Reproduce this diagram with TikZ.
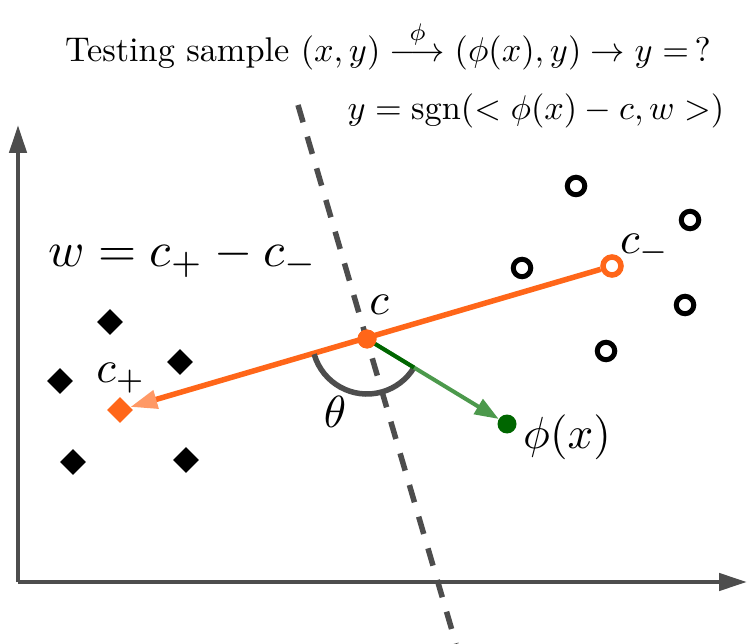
\documentclass[tikz,border=0pt]{standalone}
\usepackage{amsmath}
\usetikzlibrary{arrows.meta,shapes.geometric,calc}
\definecolor{axisgray}{HTML}{4D4D4D}
\definecolor{myorange}{HTML}{FF6619}
\definecolor{orlight}{HTML}{FF9966}
\definecolor{dkgreen}{HTML}{006600}
\definecolor{ltgreen}{HTML}{4C994C}
\tikzset{
  axisline/.style={line width=4.5pt, draw=axisgray, line cap=butt, -{Triangle[length=28pt,width=17pt]}},
  negpt/.style={circle, draw=black, line width=5pt, minimum size=17.5pt, inner sep=0pt, fill=white},
  pospt/.style={diamond, fill=black, minimum size=26pt, inner sep=0pt},
  lbl/.style={inner sep=0pt, scale=4.5},
  toptext/.style={inner sep=0pt, scale=3.43}
}
\begin{document}
\begin{tikzpicture}[x=1pt,y=-1pt]
\useasboundingbox (0,0) rectangle (747,644);
% axes
\coordinate (o) at (18,582);
\coordinate (ytip) at (18,125);
\coordinate (xtip) at (747,582);
\draw[axisline] (o) -- (ytip);
\draw[axisline] (o) -- (xtip);
% separating dashed line
\coordinate (d1) at (298,105);
\coordinate (d2) at (456,644);
\draw[axisgray, line width=5.5pt, dash pattern=on 18pt off 15pt] (d1) -- (d2);
% negative points
\node[negpt] (n1) at (576,186) {};
\node[negpt] (n2) at (690,220) {};
\node[negpt] (n3) at (522,268) {};
\node[negpt] (n4) at (685,305) {};
\node[negpt] (n5) at (606,351) {};
% positive points
\node[pospt] (p1) at (110,322) {};
\node[pospt] (p2) at (180,362) {};
\node[pospt] (p3) at (60,381) {};
\node[pospt] (p4) at (73,462) {};
\node[pospt] (p5) at (186,460) {};
% centers
\node[circle, draw=myorange, line width=5.5pt, minimum size=18pt, inner sep=0pt, fill=white] (cm) at (612,266) {};
\node[diamond, fill=myorange, minimum size=26pt, inner sep=0pt] (cp) at (120,410) {};
\node[circle, fill=myorange, minimum size=19pt, inner sep=0pt] (c) at (367,339) {};
\node[circle, fill=dkgreen, minimum size=19pt, inner sep=0pt] (phi) at (507,424) {};
% w direction
\draw[myorange, line width=5.5pt, -{Triangle[length=27pt,width=18pt,color=orlight]}] (cm) -- (cp);
% angle arc
\draw[axisgray, line width=5.5pt] (c.center) ++(164:55) arc[start angle=164, end angle=31.3, radius=55];
% phi(x) arrow
\draw[ltgreen, line width=4pt, -{Triangle[length=24pt,width=17pt]}] (c) -- (phi);
\draw[dkgreen, line width=4pt] (c.center) -- ($(c.center)!55pt!(phi.center)$);
\node[circle, fill=myorange, minimum size=19pt, inner sep=0pt] at (c) {};
% labels
\node[lbl] (lc) at (379,305) {$c$};
\node[lbl] (lcm) at (645,249) {$c_-$};
\node[lbl] (lcp) at (121,378) {$c_+$};
\node[lbl] (lphi) at (567,437) {$\phi(x)$};
\node[lbl] (lth) at (335,412) {$\theta$};
\node[lbl, scale=1.09] (lw) at (183,258) {$w = c_+ - c_-$};
\node[toptext] (t1) at (388,45) {Testing sample $(x,y) \overset{\phi}{\longrightarrow} (\phi(x),y) \rightarrow y = \,?$};
\node[toptext, anchor=east] (t2) at (725,111) {$y = \mathrm{sgn}(<\phi(x) - c, w>)$};
\end{tikzpicture}
\end{document}
